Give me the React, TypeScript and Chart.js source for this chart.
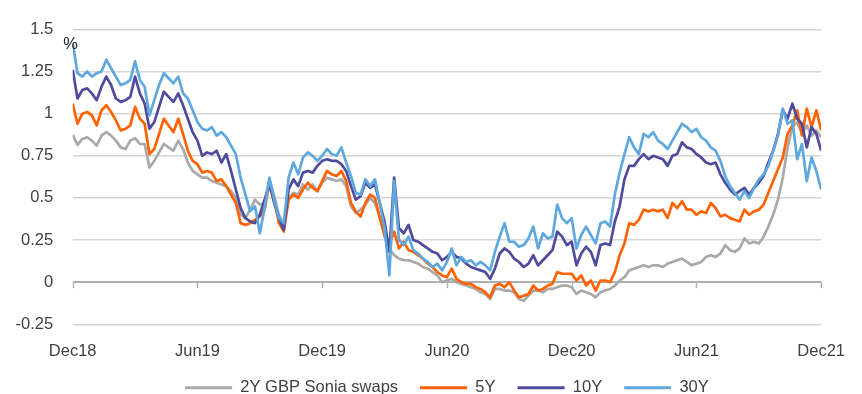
import React, { useEffect, useRef } from 'react';
import { Chart, registerables } from 'chart.js';

Chart.register(...registerables);

// Weekly observations, Dec 2018 .. Dec 2021 (index = week number)
const xTickWeeks = [0, 26, 52, 78, 104, 130, 156];
const xTickLabels = ['Dec18', 'Jun19', 'Dec19', 'Jun20', 'Dec20', 'Jun21', 'Dec21'];
const yMin = -0.25;
const yMax = 1.5;
const yStep = 0.25;

const seriesNames = ['2Y GBP Sonia swaps', '5Y', '10Y', '30Y'];
const seriesColors = ['#a9a9a9', '#ff6200', '#4f4b9c', '#5fa8dd'];

const swap2y = [
  0.875, 0.815, 0.85, 0.86, 0.84, 0.81, 0.87, 0.89, 0.87, 0.84,
  0.80, 0.79, 0.84, 0.855, 0.82, 0.82, 0.68, 0.72, 0.77, 0.82,
  0.80, 0.78, 0.84, 0.79, 0.71, 0.66, 0.64, 0.62, 0.62, 0.60,
  0.59, 0.58, 0.57, 0.54, 0.50, 0.40, 0.38, 0.43, 0.49, 0.46,
  0.47, 0.61, 0.51, 0.40, 0.34, 0.50, 0.53, 0.52, 0.58, 0.55,
  0.58, 0.54, 0.59, 0.62, 0.61, 0.60, 0.61, 0.57, 0.45, 0.41,
  0.43, 0.46, 0.50, 0.47, 0.39, 0.27, 0.20, 0.16, 0.14, 0.13,
  0.13, 0.12, 0.11, 0.09, 0.08, 0.06, 0.04, 0.00, 0.01, 0.02,
  0.00, -0.01, -0.02, -0.03, -0.04, -0.06, -0.07, -0.10, -0.04, -0.04,
  -0.05, -0.05, -0.06, -0.10, -0.11, -0.08, -0.05, -0.05, -0.06, -0.04,
  -0.04, -0.03, -0.02, -0.02, -0.03, -0.07, -0.05, -0.06, -0.07, -0.09,
  -0.06, -0.05, -0.04, -0.02, 0.01, 0.03, 0.07, 0.08, 0.09, 0.10,
  0.09, 0.10, 0.10, 0.09, 0.11, 0.12, 0.13, 0.14, 0.12, 0.10,
  0.11, 0.12, 0.15, 0.16, 0.15, 0.17, 0.22, 0.19, 0.18, 0.20,
  0.26, 0.23, 0.24, 0.23, 0.27, 0.33, 0.40, 0.49, 0.62, 0.80,
  0.92, 0.95, 0.88, 0.93, 0.87, 0.90, 0.86,
];

const swap5y = [
  1.06, 0.94, 1.00, 1.01, 0.99, 0.93, 1.02, 1.05, 1.01, 0.96,
  0.90, 0.91, 0.93, 1.04, 0.97, 0.94, 0.76, 0.79, 0.88, 0.97,
  0.93, 0.89, 0.97, 0.88, 0.78, 0.72, 0.70, 0.65, 0.66, 0.65,
  0.60, 0.61, 0.57, 0.52, 0.47, 0.35, 0.34, 0.35, 0.37, 0.39,
  0.43, 0.59, 0.49, 0.35, 0.30, 0.49, 0.52, 0.50, 0.55, 0.59,
  0.56, 0.54, 0.60, 0.66, 0.64, 0.63, 0.66, 0.60, 0.47, 0.42,
  0.39, 0.47, 0.52, 0.50, 0.38, 0.28, 0.22, 0.30, 0.20, 0.24,
  0.19, 0.18, 0.16, 0.14, 0.11, 0.09, 0.06, 0.04, 0.03, 0.08,
  0.02, 0.00, -0.01, -0.01, -0.03, -0.04, -0.06, -0.09, -0.02, -0.01,
  -0.03, 0.00, -0.05, -0.09, -0.08, -0.07, -0.02, -0.05, -0.04, -0.02,
  -0.01, 0.06, 0.05, 0.05, 0.05, 0.01, 0.04, -0.02, 0.01, -0.05,
  0.01, 0.01, 0.00, 0.06, 0.16, 0.23, 0.35, 0.34, 0.37, 0.43,
  0.42, 0.43, 0.42, 0.43, 0.38, 0.47, 0.44, 0.48, 0.43, 0.43,
  0.40, 0.42, 0.41, 0.47, 0.44, 0.39, 0.40, 0.38, 0.37, 0.36,
  0.43, 0.40, 0.42, 0.43, 0.46, 0.53, 0.60, 0.67, 0.74, 0.88,
  0.93, 1.02, 0.87, 1.03, 0.92, 1.02, 0.90,
];

const swap10y = [
  1.26, 1.09, 1.14, 1.15, 1.12, 1.08, 1.16, 1.22, 1.17, 1.09,
  1.07, 1.08, 1.10, 1.22, 1.12, 1.06, 0.91, 0.95, 1.04, 1.13,
  1.10, 1.07, 1.12, 1.05, 0.97, 0.89, 0.84, 0.75, 0.77, 0.76,
  0.78, 0.71, 0.76, 0.66, 0.55, 0.44, 0.38, 0.36, 0.35, 0.40,
  0.49, 0.58, 0.47, 0.38, 0.31, 0.55, 0.61, 0.57, 0.65, 0.66,
  0.65, 0.69, 0.72, 0.73, 0.72, 0.72, 0.70, 0.66, 0.57, 0.49,
  0.51, 0.59, 0.56, 0.58, 0.47, 0.36, 0.18, 0.62, 0.32, 0.29,
  0.34, 0.25, 0.24, 0.22, 0.20, 0.18, 0.17, 0.13, 0.15, 0.18,
  0.15, 0.14, 0.11, 0.09, 0.08, 0.07, 0.06, 0.02, 0.08, 0.17,
  0.20, 0.18, 0.14, 0.12, 0.09, 0.11, 0.16, 0.10, 0.13, 0.16,
  0.19, 0.30, 0.27, 0.22, 0.24, 0.10, 0.17, 0.21, 0.18, 0.10,
  0.22, 0.23, 0.22, 0.36, 0.45, 0.61, 0.69, 0.69, 0.73, 0.76,
  0.73, 0.75, 0.74, 0.73, 0.69, 0.75, 0.76, 0.83, 0.80, 0.79,
  0.76, 0.74, 0.71, 0.70, 0.71, 0.64, 0.59, 0.55, 0.52, 0.54,
  0.56, 0.52, 0.56, 0.59, 0.63, 0.71, 0.78, 0.88, 1.02, 0.97,
  1.06, 0.97, 0.94, 0.80, 0.92, 0.88, 0.78,
];

const swap30y = [
  1.42, 1.24, 1.22, 1.25, 1.22, 1.24, 1.25, 1.32, 1.27, 1.22,
  1.17, 1.18, 1.20, 1.31, 1.20, 1.16, 0.99, 1.08, 1.17, 1.24,
  1.21, 1.18, 1.22, 1.12, 1.09, 1.02, 0.95, 0.91, 0.90, 0.92,
  0.87, 0.89, 0.86, 0.81, 0.76, 0.62, 0.52, 0.42, 0.45, 0.29,
  0.44, 0.62, 0.49, 0.38, 0.35, 0.62, 0.71, 0.64, 0.74, 0.77,
  0.75, 0.72, 0.75, 0.79, 0.76, 0.75, 0.80, 0.71, 0.63, 0.53,
  0.52, 0.61, 0.57, 0.61, 0.47, 0.32, 0.04, 0.60, 0.25, 0.22,
  0.27, 0.19, 0.17, 0.14, 0.12, 0.09, 0.11, 0.07, 0.12, 0.20,
  0.10, 0.15, 0.12, 0.13, 0.10, 0.12, 0.10, 0.07, 0.18, 0.27,
  0.35, 0.24, 0.24, 0.21, 0.22, 0.26, 0.33, 0.20, 0.29, 0.26,
  0.27, 0.46, 0.38, 0.35, 0.38, 0.20, 0.28, 0.33, 0.28, 0.23,
  0.35, 0.36, 0.33, 0.52, 0.65, 0.76, 0.86, 0.80, 0.76, 0.88,
  0.86, 0.89, 0.84, 0.82, 0.79, 0.84, 0.89, 0.94, 0.92, 0.89,
  0.91, 0.86, 0.84, 0.80, 0.78, 0.72, 0.63, 0.57, 0.53, 0.49,
  0.54, 0.50, 0.56, 0.61, 0.64, 0.69, 0.78, 0.87, 1.03, 0.94,
  0.96, 0.73, 0.82, 0.60, 0.74, 0.66, 0.55,
];

const seriesValues = [swap2y, swap5y, swap10y, swap30y];

const FONT = '"Liberation Sans", Arial, sans-serif';
const FONT_SIZE = 16.5;
const TEXT_COLOR = '#404040';
const GRID_COLOR = '#d6d6d6';
const AXIS_COLOR = '#b0b0b0';

const axisTicksPlugin = {
  id: 'zeroAxisTicks',
  beforeDatasetsDraw(chart: any) {
    const { ctx, scales } = chart;
    const x = scales.x;
    const y = scales.y;
    const y0 = y.getPixelForValue(0);
    ctx.save();
    ctx.strokeStyle = AXIS_COLOR;
    ctx.lineWidth = 1.5;
    xTickWeeks.forEach((w) => {
      const px = Math.round(x.getPixelForValue(w)) + 0.5;
      ctx.beginPath();
      ctx.moveTo(px, y0);
      ctx.lineTo(px, y0 + 6);
      ctx.stroke();
    });
    ctx.restore();
  },
  afterDatasetsDraw(chart: any) {
    const { ctx, chartArea } = chart;
    ctx.save();
    ctx.fillStyle = '#222';
    ctx.font = `${FONT_SIZE}px ${FONT}`;
    ctx.textAlign = 'center';
    ctx.textBaseline = 'middle';
    ctx.fillText('%', chartArea.left - 2, chartArea.top + 15);
    ctx.restore();
  },
};

export default function App() {
  const ref = useRef<HTMLCanvasElement>(null);

  useEffect(() => {
    const datasets = seriesNames.map((name, i) => ({
      label: name,
      data: seriesValues[i].map((v, w) => ({ x: w, y: v })),
      borderColor: seriesColors[i],
      backgroundColor: seriesColors[i],
      borderWidth: 2.7,
      pointRadius: 0,
      pointHoverRadius: 0,
      tension: 0,
      borderJoinStyle: 'round' as const,
      order: seriesNames.length - i,
    }));

    const chart = new Chart(ref.current as HTMLCanvasElement, {
      type: 'line',
      data: { datasets },
      plugins: [axisTicksPlugin],
      options: {
        animation: false,
        responsive: false,
        events: [],
        layout: { padding: { left: 0, right: 26.7, top: 22.3, bottom: -12 } },
        scales: {
          x: {
            type: 'linear',
            min: 0,
            max: 156,
            afterBuildTicks: (axis: any) => {
              axis.ticks = xTickWeeks.map((w) => ({ value: w }));
            },
            afterFit: (axis: any) => {
              axis.height = 33.2;
            },
            grid: { display: false, drawTicks: false },
            border: { display: false },
            ticks: {
              autoSkip: false,
              maxRotation: 0,
              padding: 17,
              color: TEXT_COLOR,
              font: { family: FONT, size: FONT_SIZE },
              callback: (value: any) => {
                const idx = xTickWeeks.indexOf(Number(value));
                return idx >= 0 ? xTickLabels[idx] : '';
              },
            },
          },
          y: {
            min: yMin,
            max: yMax,
            afterFit: (axis: any) => {
              axis.width = 72.7;
            },
            grid: {
              drawTicks: false,
              color: (c: any) => (c.tick && c.tick.value === 0 ? AXIS_COLOR : GRID_COLOR),
              lineWidth: (c: any) => (c.tick && c.tick.value === 0 ? 2 : 1.5),
            },
            border: { display: false },
            ticks: {
              stepSize: yStep,
              padding: 19.5,
              color: TEXT_COLOR,
              font: { family: FONT, size: FONT_SIZE },
              callback: (value: any) => String(Number(Number(value).toFixed(2))),
            },
          },
        },
        plugins: {
          tooltip: { enabled: false },
          title: { display: false },
          legend: {
            display: true,
            position: 'bottom',
            fullSize: false,
            labels: {
              boxWidth: 47,
              boxHeight: 3,
              padding: 22,
              color: TEXT_COLOR,
              font: { family: FONT, size: FONT_SIZE },
              sort: (a: any, b: any) => a.datasetIndex - b.datasetIndex,
              generateLabels: (ch: any) =>
                (Chart.defaults.plugins.legend.labels as any)
                  .generateLabels(ch)
                  .map((l: any) => ({ ...l, fillStyle: l.strokeStyle, lineWidth: 0 })),
            },
          },
        },
      },
    });
    return () => chart.destroy();
  }, []);

  return (
    <div style={{ position: 'absolute', left: 0, top: 0, width: 862, height: 394, background: '#fff' }}>
      <canvas ref={ref} width={862} height={394} style={{ display: 'block' }} />
    </div>
  );
}
